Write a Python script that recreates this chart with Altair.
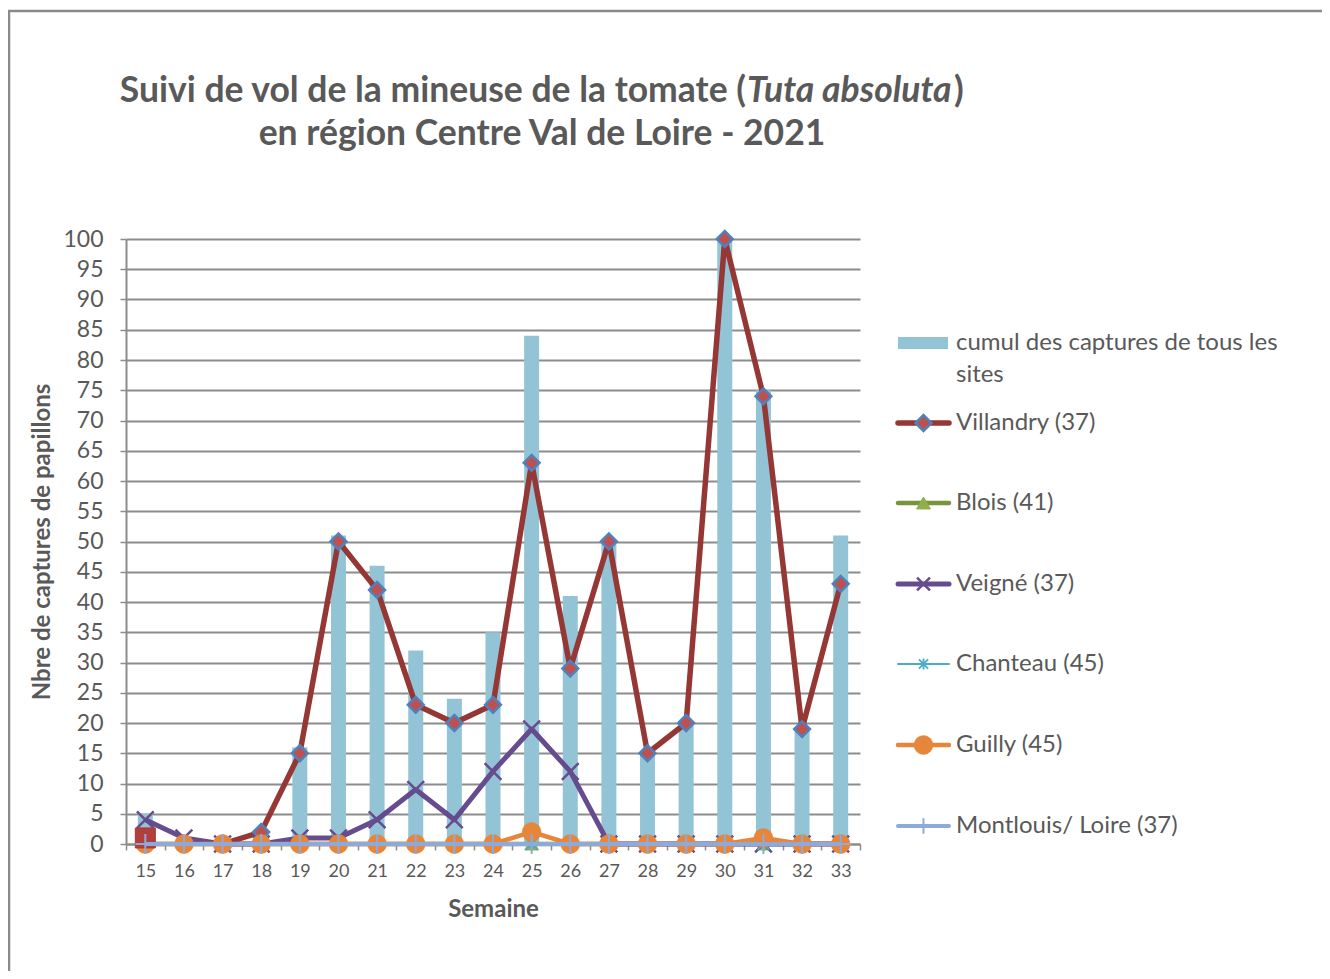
import altair as alt
import pandas as pd

# ---------------- data ----------------
semaines = [15, 16, 17, 18, 19, 20, 21, 22, 23, 24, 25, 26, 27, 28, 29, 30, 31, 32, 33]
cumul = [5, 1, 0, 2, 16, 51, 46, 32, 24, 35, 84, 41, 50, 15, 20, 100, 75, 19, 51]
villandry = [1, None, 0, 2, 15, 50, 42, 23, 20, 23, 63, 29, 50, 15, 20, 100, 74, 19, 43]
blois = [0, 0, 0, 0, 0, 0, 0, 0, 0, 0, 0, 0, 0, 0, 0, 0, 0, 0, 0]
veigne = [4, 1, 0, 0, 1, 1, 4, 9, 4, 12, 19, 12, 0, 0, 0, 0, 0, 0, 0]
chanteau = [0, 0, 0, 0, 0, 0, 0, 0, 0, 0, 0, 0, 0, 0, 0, 0, 0, 0, 0]
guilly = [0, 0, 0, 0, 0, 0, 0, 0, 0, 0, 2, 0, 0, 0, 0, 0, 1, 0, 0]
montlouis = [0, 0, 0, 0, 0, 0, 0, 0, 0, 0, 0, 0, 0, 0, 0, 0, 0, 0, 0]

series_names = ["Villandry (37)", "Blois (41)", "Veigné (37)", "Chanteau (45)",
                "Guilly (45)", "Montlouis/ Loire (37)"]
series_values = [villandry, blois, veigne, chanteau, guilly, montlouis]
bar_label = ["cumul des captures de tous les", "sites"]

title_l1 = ["Suivi de vol de la mineuse de la tomate (", "Tuta absoluta", ")"]
title_l2 = "en région Centre Val de Loire - 2021"
x_title = "Semaine"
y_title = "Nbre de captures de papillons"

# ---------------- styles ----------------
FONT = "Lato"
TXT = "#595959"
GRID = "#8c8c8c"
BAR = "#93c4d6"
W, H = 734, 605
X_PATH = "M-1,-1L1,1M-1,1L1,-1"
STAR_PATH = "M-1,-1L1,1M-1,1L1,-1M0,-1.2L0,1.2"
PLUS_PATH = "M-1,0L1,0M0,-1L0,1"

styles = {
    "Villandry (37)": dict(line="#953735", width=5.5, shape="diamond", size=250, filled=True,
                           fill="#c0504d", stroke="#4f81bd", sw=2.5),
    "Blois (41)": dict(line="#77933c", width=4.5, shape="triangle-up", size=190, filled=True,
                       fill="#8db04a", stroke="#8db04a", sw=1),
    "Veigné (37)": dict(line="#664b8f", width=5, shape=X_PATH, size=280, filled=False,
                        fill="#664b8f", stroke="#664b8f", sw=2.5),
    "Chanteau (45)": dict(line="#4bacc6", width=2, shape=STAR_PATH, size=140, filled=False,
                          fill="#4bacc6", stroke="#4bacc6", sw=1.8),
    "Guilly (45)": dict(line="#e6863a", width=4.5, shape="circle", size=360, filled=True,
                        fill="#e6863a", stroke="#e6863a", sw=0.5),
    "Montlouis/ Loire (37)": dict(line="#8eaadb", width=4, shape=PLUS_PATH, size=400, filled=False,
                                  fill="#8eaadb", stroke="#8eaadb", sw=2),
}

# ---------------- tables ----------------
rows = []
for name, vals in zip(series_names, series_values):
    seg, gap = 0, True
    for s, v in zip(semaines, vals):
        if v is None:
            gap = True
            continue
        if gap:
            seg += 1
        gap = False
        rows.append({"serie": name, "semaine": s, "valeur": v, "seg": seg})
lines_df = pd.DataFrame(rows)
bars_df = pd.DataFrame({"semaine": semaines, "cumul": cumul})

x_enc = alt.X(
    "semaine:O",
    scale=alt.Scale(domain=semaines, paddingInner=0, paddingOuter=0),
    axis=alt.Axis(
        title=x_title, labelAngle=0, tickBand="extent", labelFont=FONT, labelFontSize=18,
        labelColor=TXT, labelPadding=12, tickSize=6, tickColor=GRID, tickWidth=1.5,
        domainColor=GRID, domainWidth=2, grid=False, titleFont=FONT, titleFontSize=24,
        titleFontWeight="bold", titleColor=TXT, titleX=W / 2, titleY=72,
        titleBaseline="alphabetic", titleAlign="center",
    ),
)


def y_enc(field):
    return alt.Y(
        field,
        scale=alt.Scale(domain=[0, 100], nice=False, zero=True),
        axis=alt.Axis(
            values=list(range(0, 101, 5)), title=y_title, labelFont=FONT, labelFontSize=23,
            labelColor=TXT, labelPadding=17, tickSize=6, tickColor=GRID, tickWidth=1.5,
            domainColor=GRID, domainWidth=2, grid=True, gridColor=GRID, gridWidth=2,
            titleFont=FONT, titleFontSize=24, titleFontWeight="bold", titleColor=TXT,
            titleX=-77, titleY=H / 2, titleAngle=270, titleBaseline="alphabetic",
            titleAlign="center",
        ),
    )


layers = []

# frame around the whole figure
one = alt.Data(values=[{}])
layers.append(
    alt.Chart(one).mark_rect(fillOpacity=0, stroke="#8a8a8a", strokeWidth=2.5).encode(
        x=alt.value(-117), x2=alt.value(1300), y=alt.value(-228), y2=alt.value(800)
    )
)

# bars
layers.append(
    alt.Chart(bars_df).mark_bar(width=15, color=BAR).encode(x=x_enc, y=y_enc("cumul:Q"))
)


def markers(chart, st, scale=1.0):
    if st["filled"]:
        return chart.mark_point(shape=st["shape"], size=st["size"] * scale, filled=True,
                                fill=st["fill"], stroke=st["stroke"], strokeWidth=st["sw"],
                                opacity=1)
    return chart.mark_point(shape=st["shape"], size=st["size"] * scale, filled=False,
                            stroke=st["stroke"], strokeWidth=st["sw"], opacity=1)


# lines + markers
first_point = None
for name in series_names:
    st = styles[name]
    base = alt.Chart(lines_df).transform_filter(alt.datum.serie == name)
    if name == series_names[-1] and first_point is not None:
        layers.append(first_point)
    layers.append(
        base.mark_line(color=st["line"], strokeWidth=st["width"], strokeJoin="round").encode(
            x=x_enc, y=y_enc("valeur:Q"), detail="seg:N"
        )
    )
    pts = base
    if name == series_names[0]:
        pts = base.transform_filter(alt.datum.semaine != semaines[0])
        first_point = (
            base.transform_filter(alt.datum.semaine == semaines[0])
            .mark_point(shape="square", size=400, filled=True, fill="#b13f3b",
                        stroke="#a33a37", strokeWidth=1, opacity=1)
            .encode(x=x_enc, y=y_enc("valeur:Q"))
        )
    layers.append(markers(pts, st).encode(x=x_enc, y=y_enc("valeur:Q")))

# ---------------- legend (drawn) ----------------
LX0, LX1, LTX = 772, 823, 830
LFS = 24
leg_y = [184, 264, 345, 425, 506, 587]
layers.append(
    alt.Chart(one).mark_rect(color=BAR).encode(
        x=alt.value(LX0), x2=alt.value(LX1 - 1), y=alt.value(98), y2=alt.value(110)
    )
)
layers.append(
    alt.Chart(one).mark_text(text=bar_label, align="left", baseline="middle", font=FONT,
                             fontSize=LFS, color=TXT, lineHeight=32).encode(
        x=alt.value(LTX), y=alt.value(104)
    )
)
for name, yy in zip(series_names, leg_y):
    st = styles[name]
    layers.append(
        alt.Chart(one).mark_rule(color=st["line"], strokeWidth=st["width"], strokeCap="round").encode(
            x=alt.value(LX0), x2=alt.value(LX1), y=alt.value(yy)
        )
    )
    sc = 1.0 if st["filled"] else 0.6
    layers.append(markers(alt.Chart(one), st, sc).encode(
        x=alt.value((LX0 + LX1) / 2), y=alt.value(yy)))
    layers.append(
        alt.Chart(one).mark_text(text=name, align="left", baseline="middle", font=FONT,
                                 fontSize=LFS, color=TXT).encode(
            x=alt.value(LTX), y=alt.value(yy)
        )
    )

# ---------------- title (drawn, with italic part) ----------------
TS = 35.5
TA = 620
TC = 828
layers.append(
    alt.Chart(one).mark_text(text=title_l1[0], align="right", baseline="middle", font=FONT,
                             fontSize=TS, fontWeight="bold", color=TXT).encode(
        x=alt.value(TA), y=alt.value(-148)
    )
)
layers.append(
    alt.Chart(one).mark_text(text=title_l1[1], align="left", baseline="middle", font=FONT,
                             fontSize=TS, fontWeight="bold", fontStyle="italic", color=TXT).encode(
        x=alt.value(TA + 1), y=alt.value(-148)
    )
)
layers.append(
    alt.Chart(one).mark_text(text=title_l1[2], align="left", baseline="middle", font=FONT,
                             fontSize=TS, fontWeight="bold", color=TXT).encode(
        x=alt.value(TC), y=alt.value(-148)
    )
)
layers.append(
    alt.Chart(one).mark_text(text=title_l2, align="center", baseline="middle", font=FONT,
                             fontSize=TS, fontWeight="bold", color=TXT).encode(
        x=alt.value(416), y=alt.value(-105)
    )
)

chart = (
    alt.layer(*layers)
    .properties(
        width=W, height=H,
        autosize=alt.AutoSizeParams(type="none"),
        padding={"left": 118, "top": 231, "right": 462, "bottom": 127},
    )
    .configure_view(strokeWidth=0)
)

chart.save("out.html", embed_options={"renderer": "svg", "actions": False})
